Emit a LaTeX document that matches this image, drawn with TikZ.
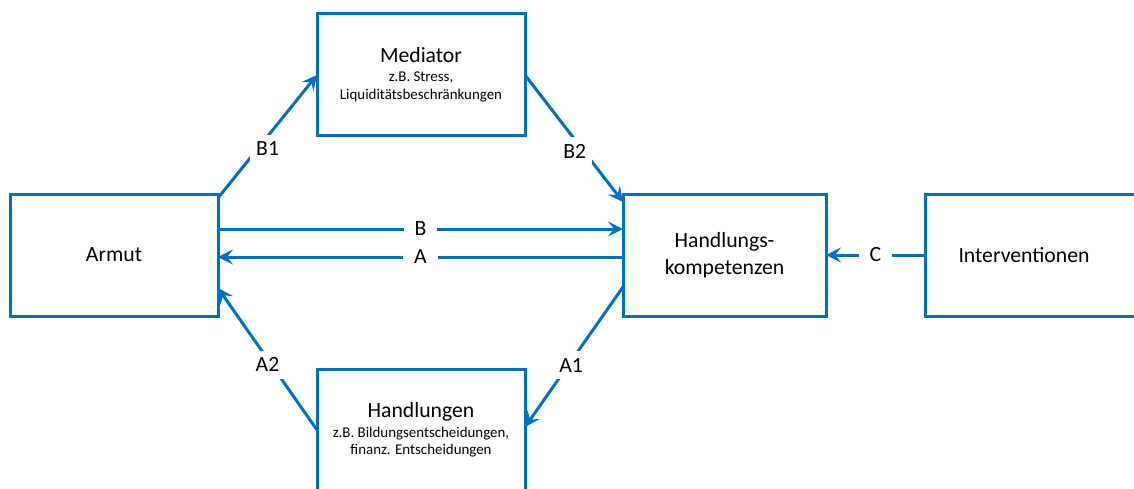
\documentclass[tikz,border=0pt]{standalone}
\usepackage{fontspec}
\setmainfont{Carlito}
\usetikzlibrary{arrows.meta}
\definecolor{boxblue}{RGB}{0,112,192}
\newcommand{\subtxt}{\fontsize{14.9}{18}\selectfont}
\begin{document}
\begin{tikzpicture}[x=1pt,y=-1pt,
        box/.style={draw=boxblue,line width=3pt,minimum width=208pt,minimum height=122pt,outer sep=0pt,align=center,font=\fontsize{21.7}{27}\selectfont},
        link/.style={draw=boxblue,line width=3pt,-{Stealth[length=15pt,width=15pt,inset=6pt]}},
        lbl/.style={fill=white,inner xsep=11pt,inner ysep=7pt,font=\fontsize{21.7}{27}\selectfont}]
        \useasboundingbox (0,0) rectangle (1134,489);
        \node[box] (armut) at (114,255) {Armut};
        \node[box] (med) at (421,75) {Mediator\\[-8pt]\subtxt z.B. Stress,\\[-9pt]\subtxt Liquiditätsbeschränkungen};
        \node[box,minimum width=203pt] (hk) at (724.5,255) {Handlungs-\\kompetenzen};
        \node[box] (hand) at (421,430) {Handlungen\\[-7pt]\subtxt z.B. Bildungsentscheidungen,\\[-10pt]\subtxt finanz. Entscheidungen};
        \node[box,minimum width=230pt,anchor=west] (interv) at (925,255) {};
        \node[font=\fontsize{21.7}{27}\selectfont] (intervtext) at (1024,255) {Interventionen};
        \draw[link] ([yshift=-4pt]armut.north east) -- (med.west) node[lbl,pos=0.4,xshift=10pt,inner xsep=6pt] {B1};
        \draw[link] (med.east) -- ([yshift=-8pt]hk.north west) node[lbl,pos=0.6,xshift=-9pt,inner xsep=6pt] {B2};
        \draw[link] ([yshift=26pt]armut.east) -- ([yshift=26pt]hk.west) node[lbl,pos=0.5] {B};
        \draw[link] ([yshift=-2pt]hk.west) -- ([yshift=-2pt]armut.east) node[lbl,pos=0.5] {A};
        \draw[link] ([yshift=-32pt]hk.west) -- ([yshift=3pt]hand.east) node[lbl,pos=0.56,xshift=3pt,inner xsep=6pt] {A1};
        \draw[link] (hand.west) -- ([yshift=-33pt]armut.east) node[lbl,pos=0.46,xshift=-4pt,inner xsep=6pt] {A2};
        \draw[link] (interv.west) -- (hk.east) node[lbl,pos=0.5] {C};
    \end{tikzpicture}
\end{document}
